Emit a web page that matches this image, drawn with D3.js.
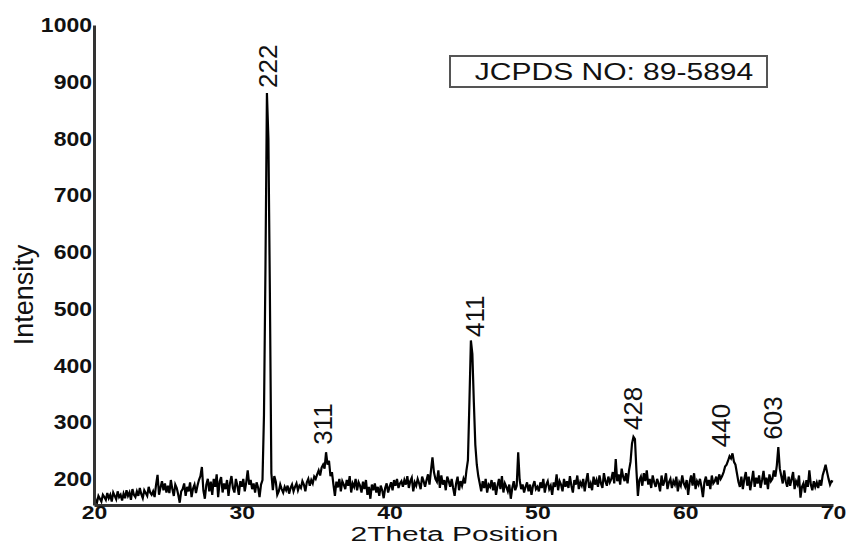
<!DOCTYPE html>
<html>
<head>
<meta charset="utf-8">
<script src="https://cdn.jsdelivr.net/npm/d3@7"></script>
<style>
  body { margin: 0; background: #fff; }
  svg { display: block; }
  text { font-family: "Liberation Sans", Arial, sans-serif; fill: #111; }
</style>
</head>
<body>
<div id="chart"></div>
<script>
// XRD pattern, sampled every 0.1 degree from 20 to 70 (2Theta)
const start2Theta = 20,
    step2Theta = 0.1;

const intensity = [
    178, 162, 158, 170, 165, 160, 172, 168, 163, 175,
    166, 172, 160, 176, 170, 164, 178, 168, 172, 162,
    174, 166, 180, 170, 176, 163, 182, 172, 168, 178,
    170, 184, 173, 166, 180, 175, 170, 186, 176, 172,
    178, 168, 190, 207, 172, 185, 196, 180, 192, 176,
    188, 175, 198, 182, 170, 190, 184, 172, 158, 178,
    182, 192, 170, 186, 178, 194, 168, 183, 190, 175,
    188, 198, 205, 221, 180, 165, 190, 200, 178, 195,
    172, 200, 186, 208, 168, 195, 203, 176, 192, 182,
    198, 170, 192, 205, 184, 176, 200, 188, 172, 196,
    186, 200, 178, 194, 215, 190, 198, 182, 192, 176,
    194, 185, 168, 190, 198, 312, 570, 880, 800, 527,
    210, 180, 205, 195, 172, 178, 190, 182, 176, 186,
    180, 188, 174, 184, 190, 178, 186, 192, 180, 188,
    184, 196, 190, 178, 194, 200, 188, 198, 192, 204,
    200, 208, 215, 206, 220, 225, 218, 247, 225, 232,
    205, 212, 190, 170, 195, 185, 200, 178, 196, 190,
    182, 198, 188, 205, 176, 192, 186, 200, 180, 194,
    188, 176, 195, 182, 198, 172, 186, 165, 190, 180,
    192, 176, 186, 170, 188, 180, 166, 184, 192, 176,
    186, 194, 180, 198, 188, 200, 184, 192, 196, 186,
    198, 190, 205, 184, 196, 202, 178, 194, 188, 200,
    192, 182, 204, 196, 186, 198, 208, 190, 215, 238,
    212, 200, 195, 215, 184, 206, 190, 198, 180, 204,
    196, 186, 200, 184, 170, 192, 204, 180, 196, 188,
    200, 192, 215, 233, 335, 444, 420, 335, 260, 225,
    205, 192, 178, 196, 184, 200, 176, 190, 186, 198,
    180, 194, 172, 188, 200, 182, 205, 176, 192, 186,
    178, 190, 165, 184, 196, 180, 188, 247, 198, 182,
    190, 176, 186, 194, 178, 190, 172, 188, 196, 182,
    186, 178, 194, 184, 200, 176, 190, 196, 182, 188,
    172, 194, 186, 208, 180, 196, 190, 178, 200, 186,
    196, 184, 205, 188, 176, 198, 190, 206, 182, 194,
    188, 200, 178, 196, 210, 184, 192, 180, 204, 190,
    198, 186, 206, 192, 184, 210, 196, 188, 204, 194,
    200, 212, 192, 235, 196, 208, 190, 218, 204, 196,
    210, 192, 215, 230, 262, 274, 270, 215, 170, 198,
    204, 188, 210, 196, 215, 190, 200, 184, 206, 194,
    186, 200, 192, 178, 206, 188, 196, 210, 182, 194,
    200, 184, 196, 190, 204, 178, 194, 188, 206, 192,
    186, 198, 172, 194, 206, 188, 210, 182, 196, 190,
    200, 186, 168, 194, 204, 188, 198, 182, 206, 192,
    196, 204, 190, 208, 200, 205, 212, 222, 225, 232,
    240, 236, 245, 230, 225, 210, 195, 186, 204, 182,
    200, 212, 188, 204, 180, 196, 214, 186, 202, 192,
    206, 184, 198, 214, 190, 202, 182, 208, 196, 200,
    215, 204, 224, 256, 218, 205, 192, 215, 196, 186,
    204, 188, 200, 212, 182, 196, 190, 206, 167, 186,
    192, 176, 198, 186, 215, 190, 180, 196, 186, 194,
    184, 198, 188, 206, 215, 225, 212, 200, 190, 196,
    195
];

// hkl labels: where each label sits (2Theta, intensity at its lower end)
const peakLabels = ["222", "311", "411", "428", "440", "603"];
const peakLabelPos = [31.77, 35.46, 45.78, 56.47, 62.42, 65.9];
const peakLabelBase = [889, 260, 450, 286, 256, 269];

const xTicks = [20, 30, 40, 50, 60, 70];
const yTicks = [200, 300, 400, 500, 600, 700, 800, 900, 1000];

const cardText = "JCPDS NO: 89-5894";

const w = 849,
    h = 546;

const svg = d3.select("#chart").append("svg")
    .attr("width", w)
    .attr("height", h);

const xScale = d3.scaleLinear().domain([20, 70]).range([94, 833]);
const yScale = d3.scaleLinear().domain([154, 1000]).range([505, 25]);

const points = intensity.map((v, i) => [start2Theta + i * step2Theta, v]);

const line = d3.line()
    .x(d => xScale(d[0]))
    .y(d => yScale(d[1]));

svg.append("path")
    .datum(points)
    .attr("d", line)
    .attr("fill", "none")
    .attr("stroke", "#000")
    .attr("stroke-width", 2.2)
    .attr("stroke-linejoin", "miter");

// axes
const xAxis = d3.axisBottom(xScale).tickValues(xTicks).tickSize(0).tickPadding(1)
    .tickFormat(d3.format("d"));
const yAxis = d3.axisLeft(yScale).tickValues(yTicks).tickSize(0).tickPadding(2)
    .tickFormat(d3.format("d"));

const gx = svg.append("g")
    .attr("transform", `translate(0,${yScale.range()[0]})`)
    .call(xAxis);

const gy = svg.append("g")
    .attr("transform", `translate(${xScale.range()[0]},0)`)
    .call(yAxis);

[[gx, 0.82], [gy, 0.9]].forEach(([g, sy]) => {
    g.select(".domain").attr("stroke", "#333").attr("stroke-width", 3);
    g.selectAll(".tick text")
        .attr("font-family", "Liberation Sans, Arial, sans-serif")
        .attr("font-size", 23)
        .attr("font-weight", "bold")
        .attr("fill", "#111")
        .attr("transform", `scale(1,${sy})`);
});

// axis titles
svg.append("text")
    .attr("transform", `translate(${(xScale.range()[0] + xScale.range()[1]) / 2 - 9},541) scale(1.07,0.7)`)
    .attr("text-anchor", "middle")
    .attr("font-size", 28)
    .text("2Theta Position");

svg.append("text")
    .attr("transform", `translate(33,${(yScale.range()[0] + yScale.range()[1]) / 2 + 30}) rotate(-90)`)
    .attr("text-anchor", "middle")
    .attr("font-size", 27)
    .text("Intensity");

// peak (hkl) labels
svg.selectAll(".peak-label")
    .data(peakLabels)
    .enter()
    .append("text")
    .attr("class", "peak-label")
    .attr("transform", (d, i) => `translate(${xScale(peakLabelPos[i])},${yScale(peakLabelBase[i])}) rotate(-90)`)
    .attr("dy", "0.36em")
    .attr("font-size", 26)
    .text(d => d);

// JCPDS card box
const card = svg.append("g").attr("transform", "translate(450,56)");
card.append("rect")
    .attr("width", 317)
    .attr("height", 31)
    .attr("fill", "#fff")
    .attr("stroke", "#555")
    .attr("stroke-width", 2);
card.append("text")
    .attr("transform", "translate(164,24) scale(1,0.78)")
    .attr("text-anchor", "middle")
    .attr("font-size", 30)
    .text(cardText);
</script>
</body>
</html>
